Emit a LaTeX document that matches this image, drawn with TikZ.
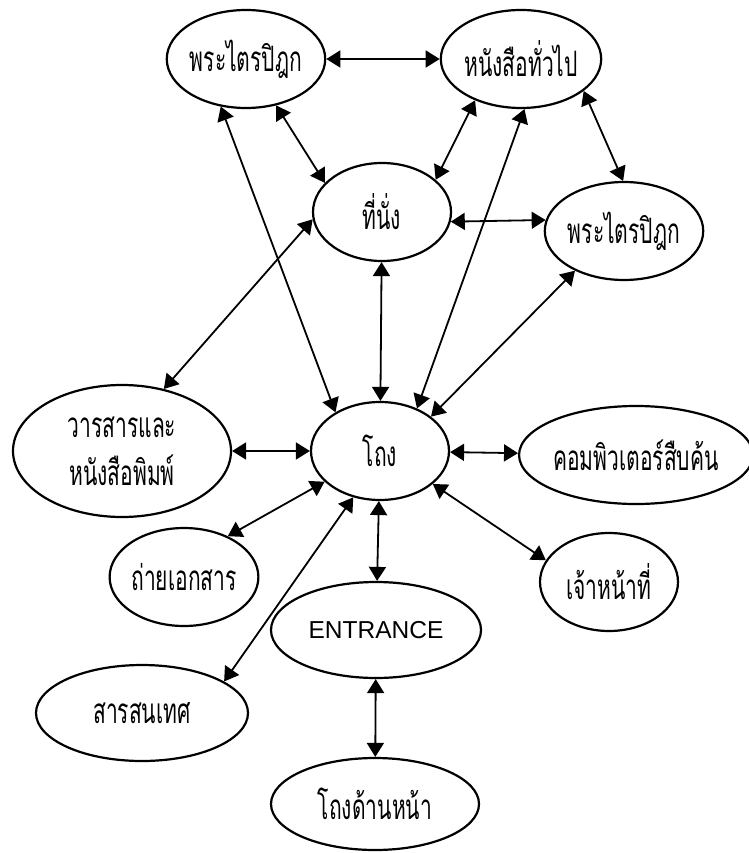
\documentclass[tikz,border=0pt]{standalone}
\usepackage{fontspec}
\setmainfont{Liberation Sans}
\newfontfamily\thai[Script=Thai, FakeStretch=0.6]{Loma}
\usepackage{tikz}
\usetikzlibrary{arrows.meta,shapes.geometric}

\begin{document}
\begin{tikzpicture}[
  x=1pt, y=-1pt, font=\fontsize{35}{36}\selectfont\thai,
  >={Triangle[length=14pt,width=17pt]},
  room/.style={draw, ellipse, line width=2.2pt, inner sep=0pt,
               minimum width=138pt, minimum height=98pt, align=center},
  link/.style={<->, line width=1.8pt},
]
\useasboundingbox (0,0) rectangle (748,853);

\node[room, minimum width=150pt] (trp) at (246,59) {พระไตรปิฎก};
\node[room, minimum width=148pt] (gen) at (521,59) {หนังสือทั่วไป};
\node[room] (seat) at (382,212) {ที่นั่ง};
\node[room] (trp2) at (624,231) {พระไตรปิฎก};
\node[room] (hall) at (380,451) {โถง};
\node[room, minimum width=218pt, minimum height=132pt] (jnl) at (122,451) {วารสารและ\\[12pt]หนังสือพิมพ์};
\node[room, minimum width=224pt] (comp) at (636,455) {คอมพิวเตอร์สืบค้น};
\node[room] (copy) at (184,577) {ถ่ายเอกสาร};
\node[room] (staff) at (609,582) {เจ้าหน้าที่};
\node[room, minimum width=210pt, minimum height=96pt, font=\fontsize{24.5}{27}\selectfont] (ent) at (376,630) {ENTRANCE};
\node[room, minimum width=212pt, minimum height=96pt] (info) at (142,713) {สารสนเทศ};
\node[room, minimum width=208pt, minimum height=92pt] (front) at (375,804) {โถงด้านหน้า};

\draw[link] (trp) -- (gen);
\draw[link] (trp.-57) -- (seat.153);
\draw[link] (gen.-138) -- (seat.31);
\draw[link] (gen.-27) -- (trp2.91);
\draw[link] (seat.-8) -- (trp2.172);
\draw[link] (trp.-118) -- (hall.139);
\draw[link] (gen.-86) -- (hall.49);
\draw[link] (seat) -- (hall);
\draw[link] (seat.186) -- (jnl.56);
\draw[link] (trp2.-141) -- (hall.34);
\draw[link] (jnl) -- (hall);
\draw[link] (hall) -- (comp);
\draw[link] (hall.209) -- (copy.43);
\draw[link] (hall.-120) -- (info.21);
\draw[link] (hall) -- (ent);
\draw[link] (hall.-32) -- (staff.161);
\draw[link] (ent) -- (front);
\end{tikzpicture}
\end{document}
